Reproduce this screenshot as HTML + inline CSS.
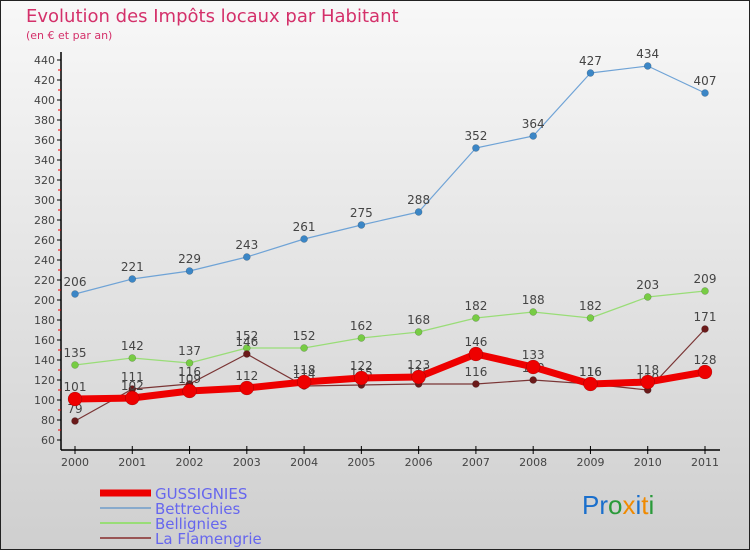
<!DOCTYPE html>
<html><head><meta charset="utf-8"><style>
body{margin:0}
svg{display:block;font-family:"DejaVu Sans","Liberation Sans",sans-serif}
</style></head><body>
<svg id="c" width="750" height="550" xmlns="http://www.w3.org/2000/svg">
<defs><linearGradient id="bg" x1="0" y1="0" x2="0" y2="1"><stop offset="0" stop-color="#f8f8f8"/><stop offset="1" stop-color="#cfcfcf"/></linearGradient></defs>
<rect x="0.5" y="0.5" width="749" height="549" fill="url(#bg)" stroke="#222"/>
<text x="26" y="22" font-size="18" fill="#d4306a">Evolution des Impôts locaux par Habitant</text>
<text x="26" y="39" font-size="11" fill="#d4306a">(en € et par an)</text>
<g id="axes"></g><g id="series"></g>
<g>
<line x1="100" y1="493" x2="151" y2="493" stroke="#ee0000" stroke-width="7"/>
<text x="155" y="499" font-size="15" fill="#6666ee">GUSSIGNIES</text>
<line x1="100" y1="508" x2="151" y2="508" stroke="#88aacc" stroke-width="2"/>
<text x="155" y="514" font-size="15" fill="#6666ee">Bettrechies</text>
<line x1="100" y1="523" x2="151" y2="523" stroke="#99dd77" stroke-width="2"/>
<text x="155" y="529" font-size="15" fill="#6666ee">Bellignies</text>
<line x1="100" y1="538" x2="151" y2="538" stroke="#995555" stroke-width="2"/>
<text x="155" y="544" font-size="15" fill="#6666ee">La Flamengrie</text>
</g>
<g font-size="26" font-family="Liberation Sans,sans-serif"><text x="582" y="514"><tspan fill="#1a6fcc">Pr</tspan><tspan fill="#2a9a3a">o</tspan><tspan fill="#f08a00">x</tspan><tspan fill="#1a6fcc">i</tspan><tspan fill="#f08a00">t</tspan><tspan fill="#2a9a3a">i</tspan></text></g>
</svg>
<script>
const years=["2000","2001","2002","2003","2004","2005","2006","2007","2008","2009","2010","2011"];
const gussignies=[101,102,109,112,118,122,123,146,133,116,118,128];
const bettrechies=[206,221,229,243,261,275,288,352,364,427,434,407];
const bellignies=[135,142,137,152,152,162,168,182,188,182,203,209];
const flamengrie=[79,111,116,146,114,115,116,116,120,116,110,171];
const yTicks=[60,80,100,120,140,160,180,200,220,240,260,280,300,320,340,360,380,400,420,440];
const NS="http://www.w3.org/2000/svg";
const X=i=>75+i*(630/11), Y=v=>500-v;
function mk(t,a,p){const e=document.createElementNS(NS,t);for(const k in a)e.setAttribute(k,a[k]);p.appendChild(e);return e;}
const ax=document.getElementById('axes');
mk('line',{x1:61,y1:Y(440)-8,x2:61,y2:450,stroke:'#000','stroke-width':1.5},ax);
mk('line',{x1:61,y1:450,x2:720,y2:450,stroke:'#000','stroke-width':1.5},ax);
yTicks.forEach(v=>{
 mk('line',{x1:57,y1:Y(v),x2:61,y2:Y(v),stroke:'#000'},ax);
 if(v<440){const m=mk('line',{x1:58,y1:Y(v+10),x2:61,y2:Y(v+10),stroke:'#e00'},ax);}
 const t=mk('text',{x:55,y:Y(v)+4,'font-size':11,'text-anchor':'end',fill:'#444'},ax);t.textContent=v;
 
 
});
years.forEach((y,i)=>{
 mk('line',{x1:X(i),y1:446,x2:X(i),y2:454,stroke:'#000'},ax);
 const t=mk('text',{x:X(i),y:466,'font-size':11,'text-anchor':'middle',fill:'#444'},ax);t.textContent=y;
 
 
});
const sg=document.getElementById('series');
function series(data,name,col,w,r,dot){
 const g=mk('g',{},sg);
 
 
 mk('polyline',{points:data.map((v,i)=>X(i)+','+Y(v)).join(' '),fill:'none',stroke:col,'stroke-width':w,'stroke-linejoin':'round'},g);
 data.forEach((v,i)=>{
  const c=mk('circle',{cx:X(i),cy:Y(v),r:r,fill:dot,stroke:'rgba(0,0,0,0.3)','stroke-width':0.5},g);
  
  
  const t=mk('text',{x:X(i),y:Y(v)-8,'font-size':12,'text-anchor':'middle',fill:'#444'},g);t.textContent=v;
  
  
 });
}
series(bettrechies,'series-bettrechies','#6fa3d6',1.2,3.5,'#3b86c6');
series(bellignies,'series-bellignies','#99dd77',1.2,3.5,'#77cc44');
series(flamengrie,'series-la-flamengrie','#7a3535',1.2,3.5,'#6b1a1a');
series(gussignies,'series-gussignies','#ee0000',7,7,'#ee0000');
</script>
</body></html>
